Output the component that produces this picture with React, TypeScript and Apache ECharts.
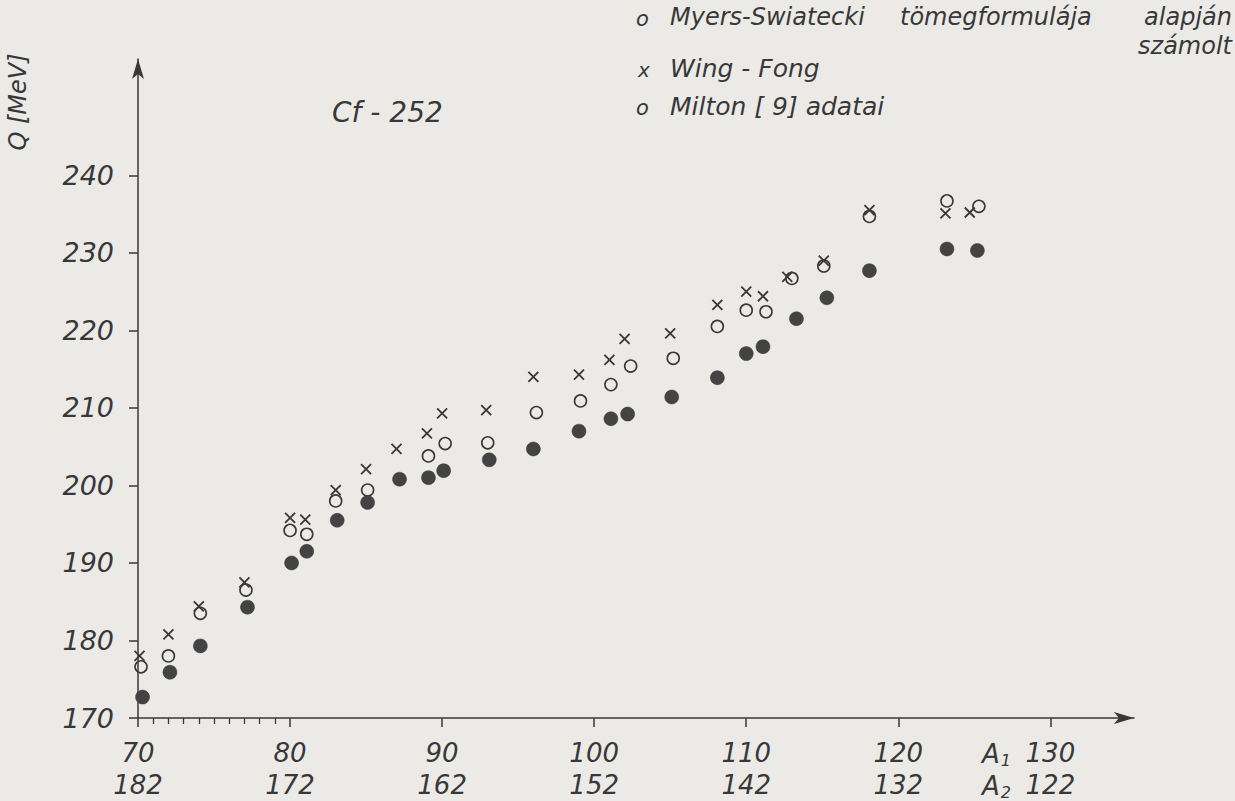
import React, { useEffect, useRef } from "react";
import * as echarts from "echarts";

const INK = "#383838";
const FONT = "'DejaVu Sans', 'Liberation Sans', sans-serif";

// Axis tick labels
const xTicksA1 = [70, 80, 90, 100, 110, 120, 130];
const xTicksA2 = [182, 172, 162, 152, 142, 132, 122];
const xMinorTicks = [71, 72, 73, 74, 75, 76, 77, 78, 79];
const yTicks = [170, 180, 190, 200, 210, 220, 230, 240];

// Myers-Swiatecki (open circles)
const myersA = [70.2, 72, 74.1, 77.1, 80, 81.1, 83, 85.1, 89.1, 90.2, 93, 96.2, 99.1, 101.1, 102.4, 105.2, 108.1, 110, 111.3, 113, 115.1, 118.1, 123.2, 125.3];
const myersQ = [176.6, 178.0, 183.5, 186.5, 194.2, 193.7, 198.0, 199.4, 203.8, 205.4, 205.5, 209.4, 210.9, 213.0, 215.4, 216.4, 220.5, 222.6, 222.4, 226.7, 228.3, 234.7, 236.7, 236.0];

// Wing-Fong (crosses)
const wingA = [70.1, 72, 74, 77, 80, 81, 83, 85, 87, 89, 90, 92.9, 96, 99, 101, 102, 105, 108.1, 110, 111.1, 112.7, 115.1, 118.1, 123.1, 124.7];
const wingQ = [178.0, 180.8, 184.4, 187.5, 195.8, 195.6, 199.4, 202.1, 204.7, 206.7, 209.3, 209.7, 214.0, 214.3, 216.2, 218.9, 219.6, 223.3, 225.0, 224.4, 226.9, 229.0, 235.5, 235.1, 235.2];

// Milton [9] (filled circles)
const miltonA = [70.3, 72.1, 74.1, 77.2, 80.1, 81.1, 83.1, 85.1, 87.2, 89.1, 90.1, 93.1, 96, 99, 101.1, 102.2, 105.1, 108.1, 110, 111.1, 113.3, 115.3, 118.1, 123.2, 125.2];
const miltonQ = [172.7, 175.9, 179.3, 184.3, 190.0, 191.5, 195.5, 197.8, 200.8, 201.0, 201.9, 203.3, 204.7, 207.0, 208.6, 209.2, 211.4, 213.9, 217.0, 217.9, 221.5, 224.2, 227.7, 230.5, 230.3];

const zip = (a: number[], b: number[]) => a.map((v, i) => [v, b[i]]);

const txt = (x: number, y: number, text: string, size: number, extra: any = {}) => ({
  type: "text",
  x,
  y,
  style: {
    text,
    fill: INK,
    font: `italic ${size}px ${FONT}`,
    textVerticalAlign: "middle",
    ...extra,
  },
});

export default function App() {
  const ref = useRef<HTMLDivElement>(null);
  useEffect(() => {
    if (!ref.current) return;
    const chart = echarts.init(ref.current, null, { renderer: "svg" });
    const labelStyle = {
      color: INK,
      fontFamily: FONT,
      fontStyle: "italic" as const,
      fontSize: 26,
    };
    chart.setOption({
      animation: false,
      backgroundColor: "#ebeae7",
      grid: { left: 138, right: 101, top: 59, bottom: 83, containLabel: false },
      xAxis: [
        {
          type: "value",
          min: 70,
          max: 135.5,
          interval: 10,
          axisLine: {
            show: true,
            onZero: false,
            symbol: ["none", "arrow"],
            symbolSize: [9, 20],
            lineStyle: { color: INK, width: 1.5 },
          },
          axisTick: { show: true, length: 9, customValues: xTicksA1, lineStyle: { color: INK, width: 1.5 } },
          axisLabel: {
            ...labelStyle,
            customValues: xTicksA1,
            margin: 19,
            lineHeight: 32,
            formatter: (v: number) => {
              const i = xTicksA1.indexOf(v);
              return i < 0 ? "" : `${v}\n${xTicksA2[i]}`;
            },
          },
          splitLine: { show: false },
        },
        {
          type: "value",
          min: 70,
          max: 135.5,
          position: "bottom",
          axisLine: { show: false },
          axisTick: { show: true, length: 6, customValues: xMinorTicks, lineStyle: { color: INK, width: 1.3 } },
          axisLabel: { show: false },
          splitLine: { show: false },
        },
      ],
      yAxis: {
        type: "value",
        min: 170,
        max: 255,
        interval: 10,
        axisLine: {
          show: true,
          onZero: false,
          symbol: ["none", "arrow"],
          symbolSize: [9, 20],
          lineStyle: { color: INK, width: 1.5 },
        },
        axisTick: { show: true, length: 9, customValues: yTicks, lineStyle: { color: INK, width: 1.5 } },
        axisLabel: {
          ...labelStyle,
          fontSize: 27,
          customValues: yTicks,
          margin: 24,
          formatter: (v: number) => (v <= 240 ? String(v) : ""),
        },
        splitLine: { show: false },
      },
      series: [
        {
          name: "Myers-Swiatecki tömegformulája alapján számolt",
          type: "scatter",
          data: zip(myersA, myersQ),
          symbol: "circle",
          symbolSize: 12,
          itemStyle: { color: "rgba(0,0,0,0)", borderColor: INK, borderWidth: 1.6, opacity: 1 },
        },
        {
          name: "Wing-Fong",
          type: "scatter",
          data: zip(wingA, wingQ),
          symbol: "path://M0,0L10,10M10,0L0,10",
          symbolSize: 10,
          itemStyle: { color: "rgba(0,0,0,0)", borderColor: INK, borderWidth: 1.8, opacity: 1 },
        },
        {
          name: "Milton [9] adatai",
          type: "scatter",
          data: zip(miltonA, miltonQ),
          symbol: "circle",
          symbolSize: 14,
          itemStyle: { color: "#434343", borderColor: "#383838", borderWidth: 0.5, opacity: 1 },
        },
      ],
      graphic: [
        {
          type: "text",
          x: 18,
          y: 102,
          rotation: Math.PI / 2,
          style: {
            text: "Q [MeV]",
            fill: INK,
            font: `italic 24px ${FONT}`,
            textAlign: "center",
            textVerticalAlign: "middle",
          },
        },
        txt(332, 112, "Cf - 252", 28),
        txt(636, 19, "o", 21),
        txt(670, 17, "Myers-Swiatecki", 24),
        txt(900, 17, "tömegformulája", 24),
        txt(1232, 17, "alapján", 24, { textAlign: "right" }),
        txt(1232, 46, "számolt", 24, { textAlign: "right" }),
        txt(638, 70, "x", 20),
        txt(670, 68, "Wing - Fong", 25),
        txt(636, 108, "o", 21),
        txt(670, 106, "Milton [ 9] adatai", 25),
        {
          type: "text",
          x: 982,
          y: 754,
          style: {
            text: "A{s|1}",
            fill: INK,
            font: `italic 26px ${FONT}`,
            textVerticalAlign: "middle",
            rich: { s: { fontSize: 16, fontStyle: "italic", fontFamily: FONT, fill: INK, padding: [12, 0, 0, 1] } },
          },
        },
        {
          type: "text",
          x: 982,
          y: 786,
          style: {
            text: "A{s|2}",
            fill: INK,
            font: `italic 26px ${FONT}`,
            textVerticalAlign: "middle",
            rich: { s: { fontSize: 16, fontStyle: "italic", fontFamily: FONT, fill: INK, padding: [12, 0, 0, 1] } },
          },
        },
      ],
    });
    return () => chart.dispose();
  }, []);
  return (
    <div
      ref={ref}
      style={{ position: "absolute", left: 0, top: 0, width: 1235, height: 801 }}
    />
  );
}
